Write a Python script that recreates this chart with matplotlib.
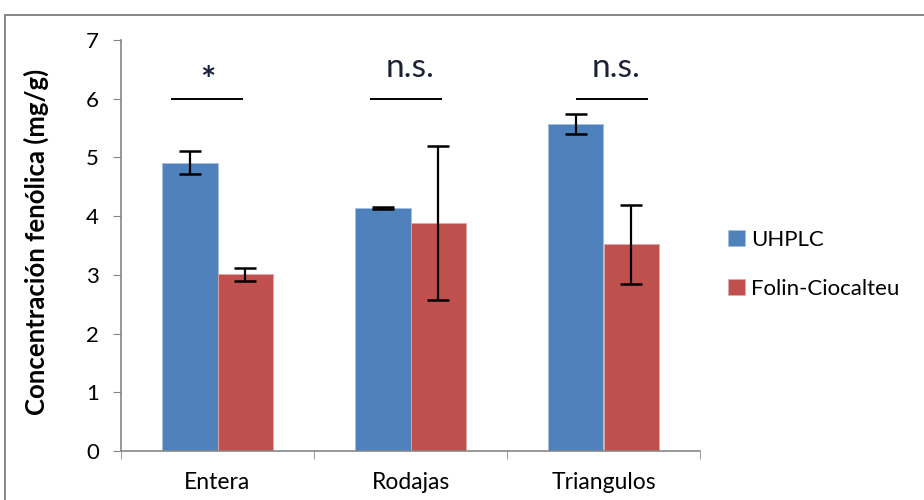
import matplotlib
matplotlib.use("Agg")
import matplotlib.pyplot as plt
import numpy as np
from matplotlib.patches import Rectangle

categories = ["Entera", "Rodajas", "Triangulos"]
series_names = ["UHPLC", "Folin-Ciocalteu"]
uhplc = [4.91, 4.14, 5.57]
uhplc_err = [0.20, 0.02, 0.17]
folin = [3.01, 3.88, 3.52]
folin_err = [0.11, 1.31, 0.67]
sig_labels = ["*", "n.s.", "n.s."]
sig_level = 6.0

# annotation placement (offsets from category centre, in category units)
sig_line_start = [-0.236, -0.205, -0.137]
sig_line_end = [0.127, 0.158, 0.225]
sig_text_offset = [-0.05, 0.0, 0.065]

plt.rcParams['font.family'] = ['Lato', 'DejaVu Sans']

fig = plt.figure(figsize=(9.24, 5.0), dpi=100)
ax = fig.add_axes([121/924, 49/500, (700-121)/924, (451-40)/500])

x = np.arange(len(categories))
w = 0.285
blue = "#4F81BD"
red = "#C0504D"
ekw = dict(ecolor="black", elinewidth=1.6, capsize=8, capthick=1.8)
ax.bar(x - w/2, uhplc, w, color=blue, edgecolor="#a7bfe0", linewidth=0.6,
       yerr=uhplc_err, error_kw=ekw, label=series_names[0])
ax.bar(x + w/2, folin, w, color=red, edgecolor="#e0a8a7", linewidth=0.6,
       yerr=folin_err, error_kw=ekw, label=series_names[1])

for i, lab in enumerate(sig_labels):
    ax.plot([i + sig_line_start[i], i + sig_line_end[i]], [sig_level, sig_level],
            color="black", lw=1.4)
    if lab == "*":
        ax.text(i + sig_text_offset[i], sig_level + 0.30, lab, ha="center", va="center",
                fontsize=26, fontweight="bold", color="#18203a")
    else:
        ax.text(i + sig_text_offset[i], sig_level + 0.37, lab, ha="center", va="baseline",
                fontsize=24, color="#1c2233")

ax.set_xlim(-0.5, 2.5)
ax.set_ylim(0, 7)
ax.set_yticks(range(0, 8))
ax.set_xticks(x)
ax.set_xticklabels(categories, fontsize=16.5)
ax.set_xticks([-0.5, 0.5, 1.5, 2.5], minor=True)
ax.tick_params(axis='x', which='major', length=0, pad=15)
ax.tick_params(axis='x', which='minor', length=6, color="#868686", direction="out")
ax.tick_params(axis='y', length=6, color="#868686", direction="out", labelsize=16, pad=10)
for s in ["top", "right"]:
    ax.spines[s].set_visible(False)
for s in ["left", "bottom"]:
    ax.spines[s].set_color("#868686")
    ax.spines[s].set_linewidth(1.2)

ax.set_ylabel("Concentración fenólica (mg/g)", fontsize=18.5, fontweight="bold", va="center")
ax.yaxis.set_label_coords(-0.147, 0.51)

leg = fig.legend(loc="upper left", bbox_to_anchor=(708/924, 1 - 210/500), frameon=False,
                 fontsize=16, handlelength=0.75, handleheight=0.75, labelspacing=1.3,
                 handletextpad=0.3)

fig.patches.append(Rectangle((5/924, -0.1), 1.2, (500-15)/500 + 0.1, transform=fig.transFigure,
                             fill=False, edgecolor="#868686", linewidth=1.4))

fig.savefig("out.png", dpi=100)
